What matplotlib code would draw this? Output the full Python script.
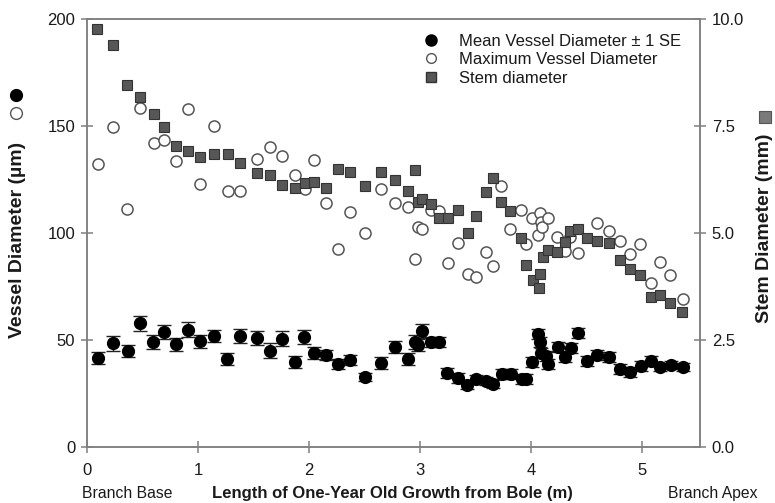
import matplotlib
matplotlib.use("Agg")
import matplotlib.pyplot as plt
from matplotlib.lines import Line2D

plt.rcParams["font.family"] = ["Liberation Sans", "DejaVu Sans"]

# Mean vessel diameter (um) +/- 1 SE
x_mean = [0.10, 0.23, 0.37, 0.48, 0.59, 0.69, 0.80, 0.91, 1.02, 1.14,
          1.26, 1.38, 1.53, 1.65, 1.76, 1.87, 1.95, 2.04, 2.15, 2.26,
          2.37, 2.50, 2.65, 2.77, 2.89, 2.95, 2.98, 3.02, 3.10, 3.17,
          3.24, 3.34, 3.42, 3.50, 3.59, 3.66, 3.74, 3.82, 3.92, 3.95,
          4.01, 4.06, 4.08, 4.09, 4.13, 4.15, 4.24, 4.30, 4.36, 4.42,
          4.50, 4.59, 4.70, 4.80, 4.89, 4.99, 5.08, 5.16, 5.26, 5.37]
mean_diam = [41.6, 48.6, 44.9, 57.9, 49.1, 53.7, 48.1, 54.7, 49.5, 51.9,
             41.1, 51.9, 50.9, 44.9, 50.5, 39.7, 51.4, 43.9, 43.0, 38.8,
             40.7, 32.7, 39.3, 46.7, 41.1, 49.1, 47.7, 54.2, 49.1, 49.1,
             34.6, 32.2, 29.0, 31.8, 30.8, 29.4, 34.1, 34.1, 31.8, 31.8,
             39.7, 52.8, 49.1, 43.9, 42.5, 38.8, 46.7, 42.1, 46.3, 53.3,
             40.2, 43.0, 42.1, 36.4, 35.0, 37.9, 40.2, 37.4, 38.3, 37.4]
mean_se = [2.8, 3.5, 2.8, 3.5, 3.2, 3.2, 3.0, 3.5, 3.0, 3.0,
           2.8, 3.2, 3.2, 3.5, 3.5, 3.0, 3.2, 3.0, 2.5, 2.5,
           2.5, 2.0, 2.8, 3.0, 3.0, 3.2, 3.0, 3.2, 2.5, 2.5,
           2.2, 2.2, 2.0, 2.0, 2.0, 2.0, 2.2, 2.2, 2.2, 2.2,
           2.5, 2.5, 2.5, 2.5, 2.2, 2.2, 2.5, 2.2, 2.5, 2.5,
           2.2, 2.5, 2.5, 2.2, 2.2, 2.2, 2.2, 2.0, 2.0, 2.0]

# Maximum vessel diameter (um)
x_max = [0.10, 0.23, 0.36, 0.48, 0.60, 0.69, 0.80, 0.91, 1.02, 1.14,
         1.27, 1.38, 1.53, 1.65, 1.76, 1.87, 1.96, 2.04, 2.15, 2.26,
         2.37, 2.50, 2.65, 2.77, 2.89, 2.95, 2.98, 3.02, 3.10, 3.17,
         3.25, 3.34, 3.43, 3.50, 3.59, 3.66, 3.73, 3.81, 3.91, 3.95,
         4.01, 4.06, 4.08, 4.09, 4.10, 4.15, 4.23, 4.30, 4.35, 4.42,
         4.59, 4.70, 4.80, 4.89, 4.98, 5.08, 5.16, 5.25, 5.37]
max_diam = [132.2, 149.5, 111.2, 158.4, 142.0, 143.5, 133.6, 158.0, 122.9, 150.0,
            119.6, 119.6, 134.6, 140.2, 136.0, 127.1, 120.6, 134.1, 114.0, 92.5,
            109.8, 100.0, 120.6, 114.0, 112.2, 87.9, 102.8, 101.9, 110.7, 110.3,
            86.0, 95.3, 80.9, 79.4, 91.1, 84.6, 121.9, 101.9, 110.7, 94.8,
            107.0, 99.1, 109.4, 105.3, 102.8, 107.0, 98.1, 91.8, 98.1, 90.7,
            104.7, 101.0, 96.3, 90.2, 94.8, 76.6, 86.5, 80.4, 69.1]

# Stem diameter (mm)
x_stem = [0.09, 0.23, 0.36, 0.48, 0.60, 0.69, 0.80, 0.91, 1.02, 1.14,
          1.27, 1.38, 1.53, 1.65, 1.76, 1.87, 1.96, 2.04, 2.15, 2.26,
          2.37, 2.50, 2.65, 2.77, 2.89, 2.95, 2.98, 3.02, 3.10, 3.17,
          3.25, 3.34, 3.43, 3.50, 3.59, 3.66, 3.73, 3.81, 3.91, 3.95,
          4.02, 4.07, 4.08, 4.11, 4.15, 4.23, 4.30, 4.35, 4.42, 4.50,
          4.59, 4.70, 4.80, 4.89, 4.98, 5.08, 5.16, 5.25, 5.36]
stem_diam = [9.77, 9.39, 8.46, 8.18, 7.78, 7.48, 7.03, 6.92, 6.78, 6.85,
             6.85, 6.64, 6.40, 6.36, 6.12, 6.05, 6.17, 6.19, 6.05, 6.50,
             6.43, 6.10, 6.43, 6.24, 5.98, 6.47, 5.72, 5.79, 5.68, 5.35,
             5.35, 5.54, 5.00, 5.40, 5.96, 6.28, 5.72, 5.51, 4.88, 4.25,
             3.91, 3.71, 4.04, 4.44, 4.60, 4.56, 4.79, 5.05, 5.09, 4.88,
             4.81, 4.77, 4.37, 4.16, 4.02, 3.50, 3.55, 3.36, 3.15]

left_ticks = [0, 50, 100, 150, 200]
right_ticks = [0.0, 2.5, 5.0, 7.5, 10.0]
x_ticks = [0, 1, 2, 3, 4, 5]

spine_grey = "#808080"
text_col = "#1a1a1a"

fig = plt.figure(figsize=(7.75, 5.03), dpi=100)
ax = fig.add_axes([0.1123, 0.1113, 0.7909, 0.8509])
ax2 = ax.twinx()

# Primary axis: vessel diameters
ax.plot(x_max, max_diam, "o", ms=8, mfc="white", mec="#555555", mew=1.1,
        linestyle="none", zorder=3)
ax.errorbar(x_mean, mean_diam, yerr=mean_se, fmt="o", ms=8.5, mfc="black",
            mec="black", ecolor="#222222", elinewidth=1, capsize=4.7,
            capthick=1, zorder=4)

# Secondary axis: stem diameter
ax2.plot(x_stem, stem_diam, "s", ms=7.4, mfc="#575757", mec="#333333",
         mew=0.8, linestyle="none", zorder=3)

ax.set_xlim(0, 5.52)
ax.set_ylim(0, 200)
ax2.set_ylim(0, 10)

ax.set_xticks(x_ticks)
ax.set_yticks(left_ticks)
ax2.set_yticks(right_ticks)
ax2.set_yticklabels([f"{t:.1f}" for t in right_ticks])

for a in (ax, ax2):
    for s in a.spines.values():
        s.set_color(spine_grey)
        s.set_linewidth(1.1)
    a.tick_params(direction="inout", length=9, width=1.1, color=spine_grey,
                  labelsize=12, labelcolor=text_col)
ax.tick_params(axis="x", pad=7)
ax.tick_params(axis="y", pad=4)
ax2.tick_params(axis="y", pad=4)

# Axis titles
fig.text(0.022, 0.522, "Vessel Diameter (\u00b5m)", rotation=90, ha="center",
         va="center", fontsize=14, fontweight="bold", color=text_col)
fig.text(0.987, 0.546, "Stem Diameter (mm)", rotation=90, ha="center",
         va="center", fontsize=14, fontweight="bold", color=text_col)
fig.text(0.507, 0.004, "Length of One-Year Old Growth from Bole (m)",
         ha="center", va="bottom", fontsize=12, fontweight="bold",
         color=text_col)
fig.text(0.106, 0.004, "Branch Base", ha="left", va="bottom", fontsize=11.3,
         color=text_col)
fig.text(0.977, 0.004, "Branch Apex", ha="right", va="bottom", fontsize=11.3,
         color=text_col)

# Marker keys beside the axis titles
fig.add_artist(Line2D([0.021], [1 - 95 / 503], marker="o", ms=8.5,
                      mfc="black", mec="black", transform=fig.transFigure))
fig.add_artist(Line2D([0.021], [1 - 113 / 503], marker="o", ms=8.5,
                      mfc="white", mec="#555555", mew=1.0,
                      transform=fig.transFigure))
fig.add_artist(Line2D([0.987], [1 - 117 / 503], marker="s", ms=8.5,
                      mfc="#7a7a7a", mec="#555555", mew=0.8,
                      transform=fig.transFigure))

# Legend
handles = [
    Line2D([], [], marker="o", ls="none", ms=8, mfc="black", mec="black"),
    Line2D([], [], marker="o", ls="none", ms=7, mfc="white", mec="#555555"),
    Line2D([], [], marker="s", ls="none", ms=6.5, mfc="#575757", mec="#333333"),
]
labels = ["Mean Vessel Diameter \u00b1 1 SE", "Maximum Vessel Diameter",
          "Stem diameter"]
fig.legend(handles, labels, loc="upper left",
           bbox_to_anchor=(0.526, 0.963), frameon=False, fontsize=12,
           handlelength=1.0, handletextpad=1.2, labelspacing=0.22,
           labelcolor=text_col)

fig.savefig("out.png", dpi=100)
